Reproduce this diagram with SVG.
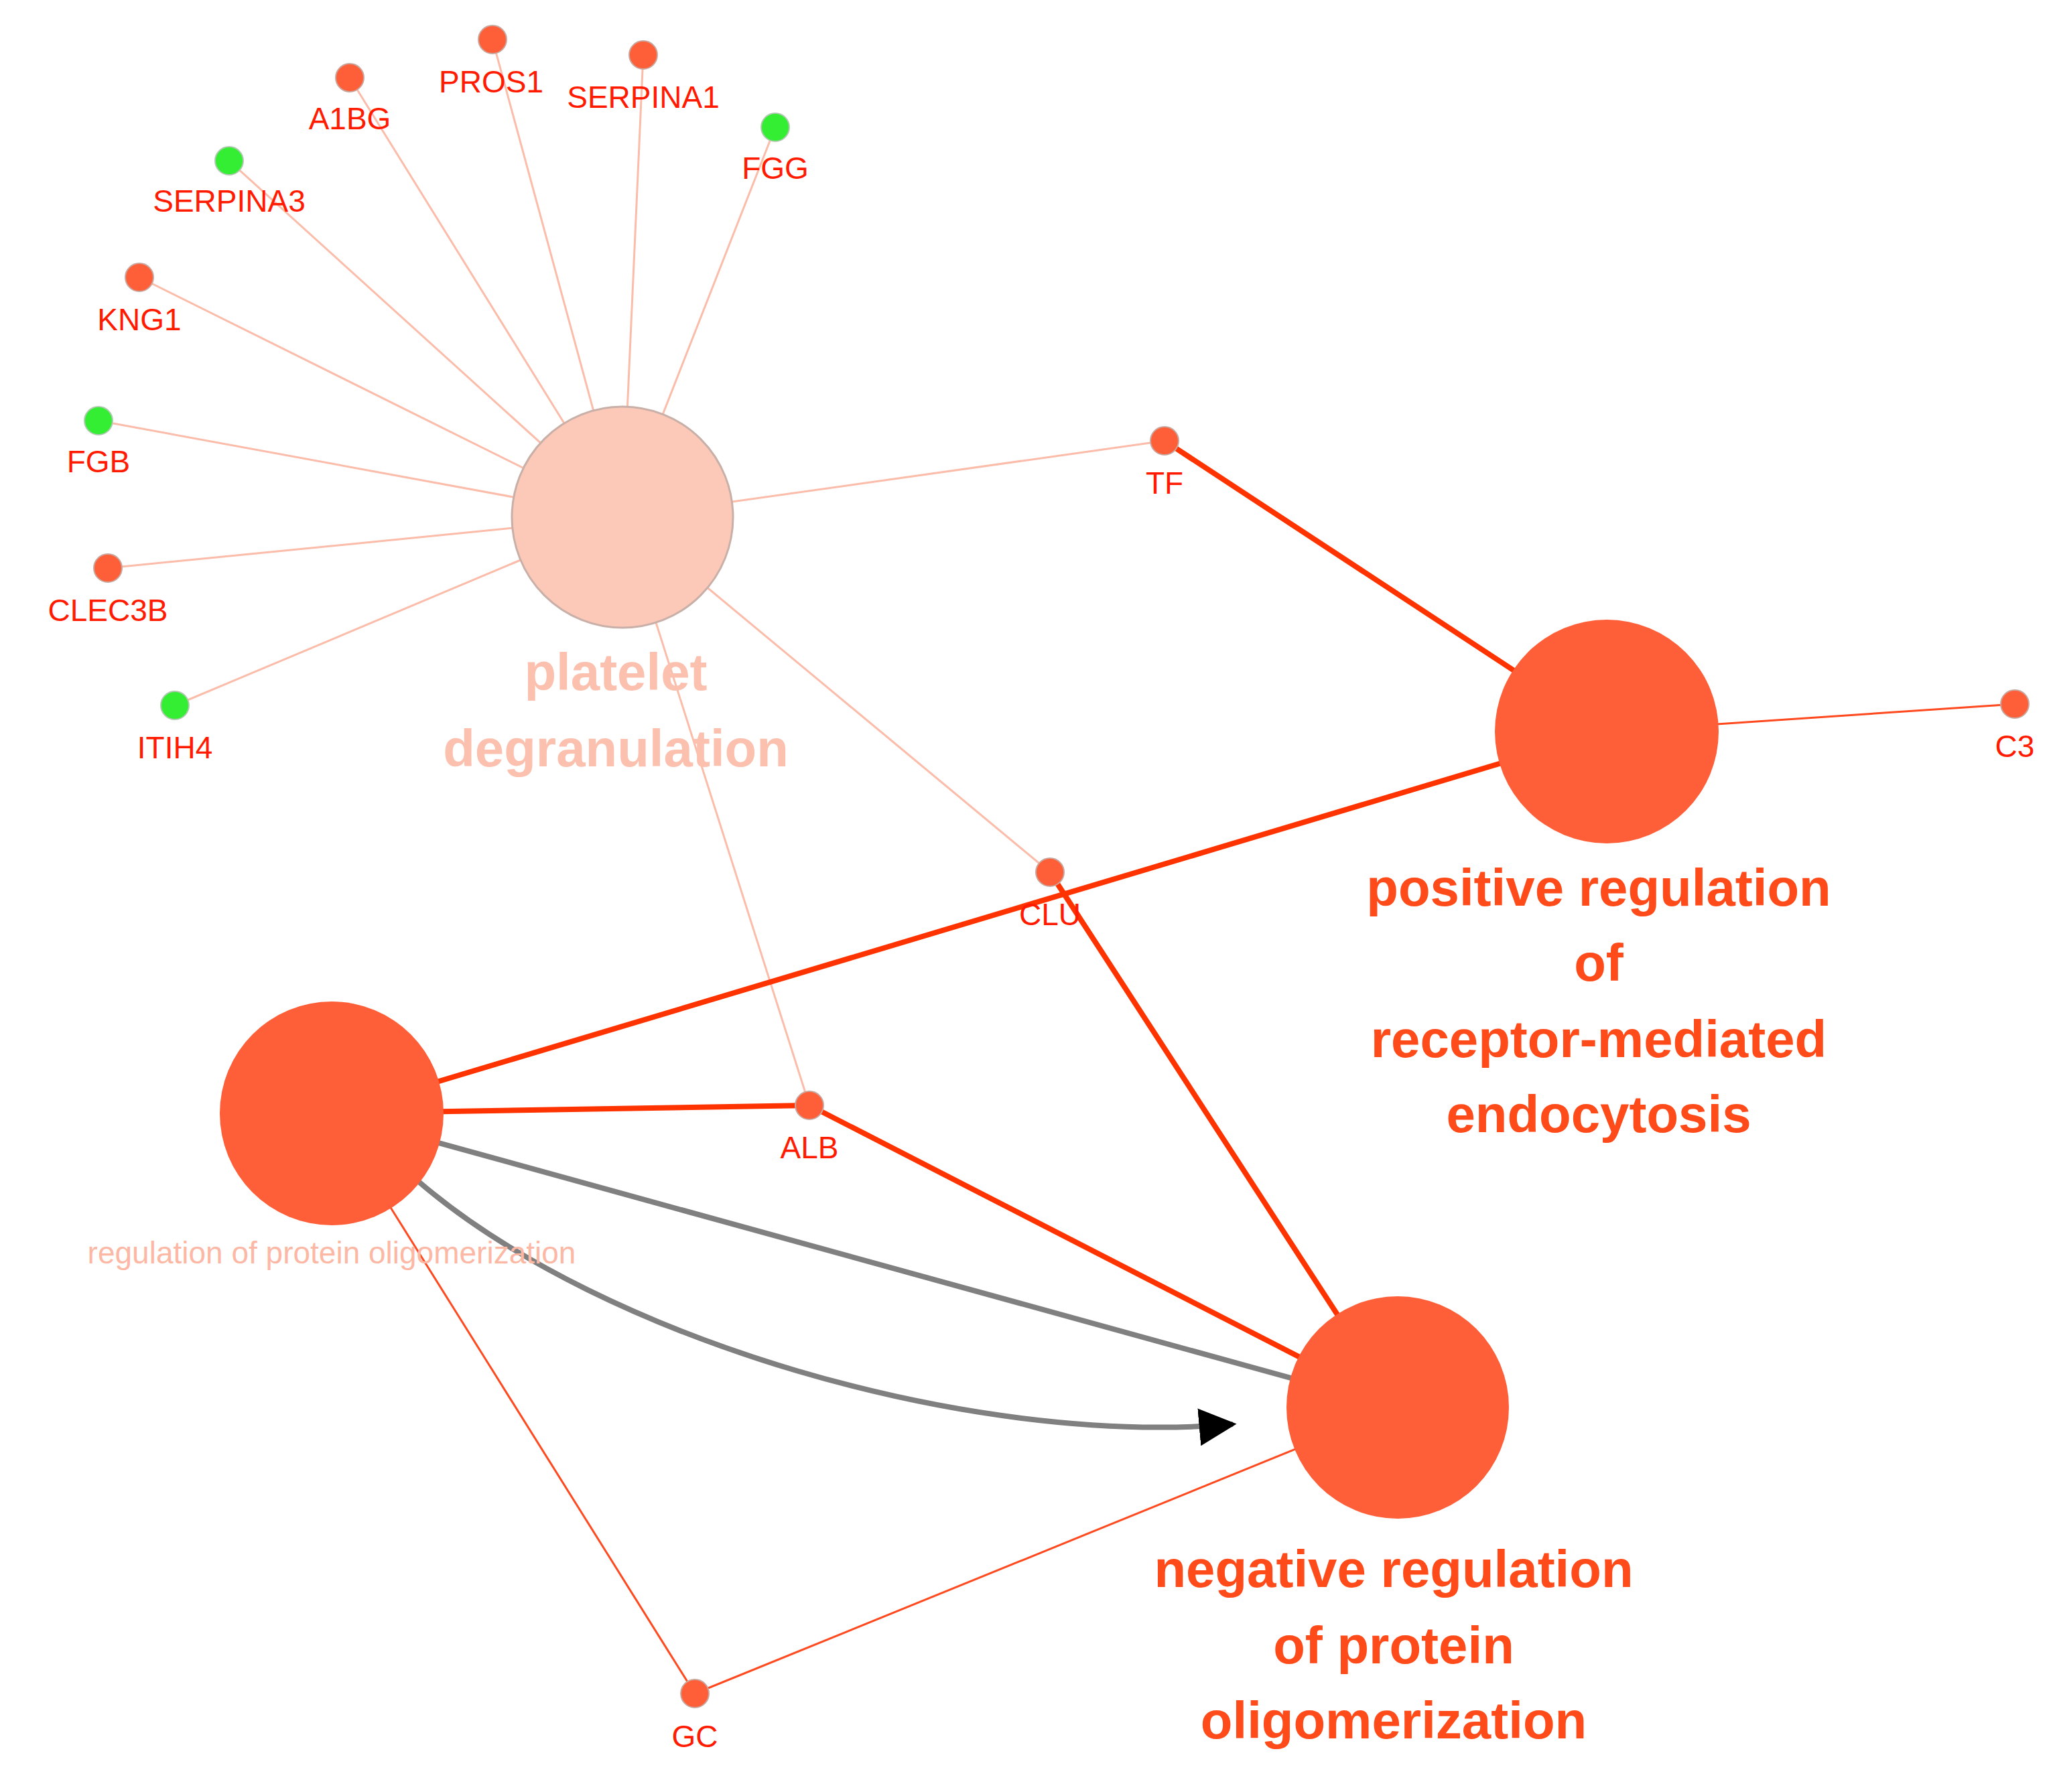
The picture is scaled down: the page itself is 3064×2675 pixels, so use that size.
<svg xmlns="http://www.w3.org/2000/svg" width="3064" height="2675" viewBox="0 0 3064 2675">
<style>
.lp{stroke:#fbbcaa;stroke-width:3;fill:none}
.tr{stroke:#ff3300;stroke-width:8;fill:none}
.nr{stroke:#ff4a20;stroke-width:3;fill:none}
.gr{stroke:#808080;stroke-width:8;fill:none}
.o{fill:#ff5f38;stroke:#c8a89e;stroke-width:2}
.g{fill:#33ee33;stroke:#b0c8b0;stroke-width:2}
.big{fill:#ff5f38}
.sl{font-family:"Liberation Sans",Arial,sans-serif;font-size:46px;fill:#ff1a00;text-anchor:middle}
.bl{font-family:"Liberation Sans",Arial,sans-serif;font-size:78px;font-weight:bold;fill:#ff4a1a;text-anchor:middle}
</style>
<defs><marker id="ar" viewBox="0 0 10 10" refX="9" refY="5" markerWidth="7" markerHeight="7" markerUnits="strokeWidth" orient="auto"><path d="M0,0L10,5L0,10z" fill="#000"/></marker></defs>
<rect width="3064" height="2675" fill="#fff"/>
<g id="connectors">
<line class="lp" x1="929" y1="772" x2="522" y2="116"/>
<line class="lp" x1="929" y1="772" x2="735" y2="59"/>
<line class="lp" x1="929" y1="772" x2="960" y2="82"/>
<line class="lp" x1="929" y1="772" x2="1157" y2="190"/>
<line class="lp" x1="929" y1="772" x2="342" y2="240"/>
<line class="lp" x1="929" y1="772" x2="208" y2="414"/>
<line class="lp" x1="929" y1="772" x2="147" y2="628"/>
<line class="lp" x1="929" y1="772" x2="161" y2="848"/>
<line class="lp" x1="929" y1="772" x2="261" y2="1053"/>
<line class="lp" x1="929" y1="772" x2="1738" y2="658"/>
<line class="lp" x1="929" y1="772" x2="1567" y2="1302"/>
<line class="lp" x1="929" y1="772" x2="1208" y2="1650"/>
<line class="tr" x1="1738" y1="658" x2="2398" y2="1092"/>
<line class="tr" x1="2398" y1="1092" x2="495" y2="1662"/>
<line class="tr" x1="1567" y1="1302" x2="2086" y2="2101"/>
<path class="tr" d="M495,1662 L1208,1650"/>
<line class="tr" x1="1208" y1="1650" x2="2086" y2="2101"/>
<line class="nr" x1="2398" y1="1092" x2="3007" y2="1051"/>
<line class="nr" x1="495" y1="1662" x2="1037" y2="2528"/>
<line class="nr" x1="1037" y1="2528" x2="2086" y2="2101"/>
<line class="gr" x1="495" y1="1662" x2="2086" y2="2101"/>
<path class="gr" d="M625,1764 C900,2000 1450,2160 1840,2126" marker-end="url(#ar)"/>
</g>
<g id="platelet"><circle cx="929" cy="772" r="165" fill="#fcc8b8" stroke="#c8b0a8" stroke-width="3"/><text class="bl" x="919" y="1030" fill="#fcc0ae" style="fill:#fcc0ae">platelet</text><text class="bl" x="919" y="1144" style="fill:#fcc0ae">degranulation</text></g>
<g id="posreg"><circle class="big" cx="2398" cy="1092" r="167"/><text class="bl" x="2386" y="1352">positive regulation</text><text class="bl" x="2386" y="1464">of</text><text class="bl" x="2386" y="1578">receptor-mediated</text><text class="bl" x="2386" y="1690">endocytosis</text></g>
<g id="negreg"><circle class="big" cx="2086" cy="2101" r="166"/><text class="bl" x="2080" y="2369">negative regulation</text><text class="bl" x="2080" y="2483">of protein</text><text class="bl" x="2080" y="2595">oligomerization</text></g>
<g id="regolig"><circle class="big" cx="495" cy="1662" r="167"/><text class="sl" x="495" y="1886" style="fill:#fcb8a4">regulation of protein oligomerization</text></g>
<g id="A1BG"><circle class="o" cx="522" cy="116" r="21"/><text class="sl" x="522" y="193">A1BG</text></g>
<g id="PROS1"><circle class="o" cx="735" cy="59" r="21"/><text class="sl" x="733" y="138">PROS1</text></g>
<g id="SERPINA1"><circle class="o" cx="960" cy="82" r="21"/><text class="sl" x="960" y="161">SERPINA1</text></g>
<g id="FGG"><circle class="g" cx="1157" cy="190" r="21"/><text class="sl" x="1157" y="267">FGG</text></g>
<g id="SERPINA3"><circle class="g" cx="342" cy="240" r="21"/><text class="sl" x="342" y="316">SERPINA3</text></g>
<g id="KNG1"><circle class="o" cx="208" cy="414" r="21"/><text class="sl" x="208" y="493">KNG1</text></g>
<g id="FGB"><circle class="g" cx="147" cy="628" r="21"/><text class="sl" x="147" y="705">FGB</text></g>
<g id="CLEC3B"><circle class="o" cx="161" cy="848" r="21"/><text class="sl" x="161" y="927">CLEC3B</text></g>
<g id="ITIH4"><circle class="g" cx="261" cy="1053" r="21"/><text class="sl" x="261" y="1132">ITIH4</text></g>
<g id="TF"><circle class="o" cx="1738" cy="658" r="21"/><text class="sl" x="1738" y="737">TF</text></g>
<g id="C3"><circle class="o" cx="3007" cy="1051" r="21"/><text class="sl" x="3007" y="1130">C3</text></g>
<g id="CLU"><circle class="o" cx="1567" cy="1302" r="21"/><text class="sl" x="1567" y="1381">CLU</text></g>
<g id="ALB"><circle class="o" cx="1208" cy="1650" r="21"/><text class="sl" x="1208" y="1729">ALB</text></g>
<g id="GC"><circle class="o" cx="1037" cy="2528" r="21"/><text class="sl" x="1037" y="2608">GC</text></g>
</svg>
